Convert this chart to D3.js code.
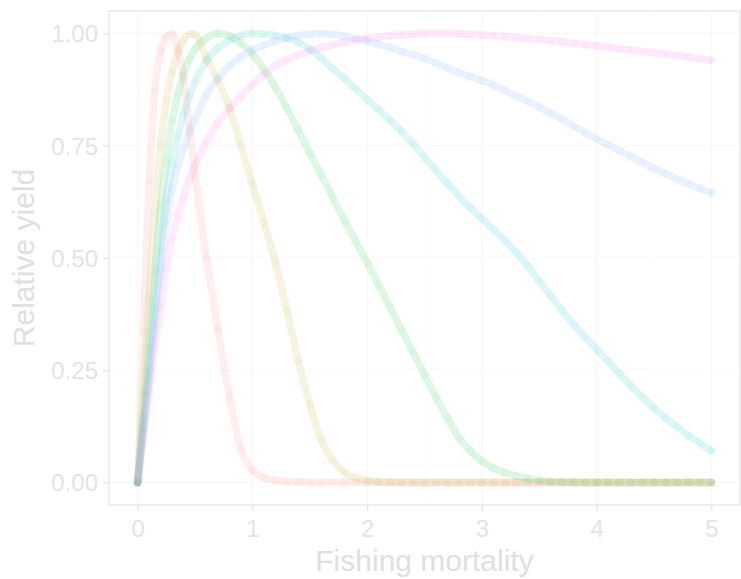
<!DOCTYPE html>
<html lang="en">
<head>
<meta charset="UTF-8">
<title>Relative yield vs fishing mortality</title>
<script src="https://d3js.org/d3.v7.min.js"></script>
<style>
  body { margin: 0; background: #fff; }
  svg { display: block; font-family: "Liberation Sans", Arial, sans-serif; }
  .grid-major { stroke: #f7f7f7; stroke-width: 1.1; }
  .grid-minor { stroke: #fcfcfc; stroke-width: 0.6; }
  .tick-lab { fill: #e4e4e4; font-size: 24px; }
  .axis-title { fill: #e0e0e0; font-size: 30px; }
</style>
</head>
<body>
<svg width="741" height="579"></svg>
<script>
// fishing mortality values (x) shared by all curves
const fishingMortality = [0, 0.05, 0.1, 0.15, 0.2, 0.25, 0.3, 0.35, 0.4, 0.45, 0.5,
  0.6, 0.7, 0.8, 0.9, 1.0, 1.1, 1.2, 1.3, 1.4, 1.5, 1.6, 1.7, 1.8, 1.9, 2.0,
  2.1, 2.2, 2.3, 2.4, 2.5, 2.6, 2.7, 2.8, 2.9, 3.0, 3.1, 3.2, 3.3, 3.4, 3.5,
  3.6, 3.7, 3.8, 3.9, 4.0, 4.1, 4.2, 4.3, 4.4, 4.5, 4.6, 4.7, 4.8, 4.9, 5.0];

// relative yield for each curve
const yield1 = [0, 0.335, 0.67, 0.875, 0.96, 0.992, 0.998, 0.965, 0.9, 0.79, 0.685,
  0.5, 0.34, 0.19, 0.075, 0.028, 0.011, 0.005, 0.002, 0.001, 0, 0, 0, 0, 0, 0,
  0, 0, 0, 0, 0, 0, 0, 0, 0, 0, 0, 0, 0, 0, 0,
  0, 0, 0, 0, 0, 0, 0, 0, 0, 0, 0, 0, 0, 0, 0];
const yield2 = [0, 0.2, 0.41, 0.6, 0.75, 0.85, 0.915, 0.958, 0.985, 0.998, 0.997,
  0.945, 0.895, 0.835, 0.75, 0.665, 0.58, 0.49, 0.385, 0.272, 0.174, 0.095, 0.05, 0.023, 0.011, 0.005,
  0.002, 0.001, 0, 0, 0, 0, 0, 0, 0, 0, 0, 0, 0, 0, 0,
  0, 0, 0, 0, 0, 0, 0, 0, 0, 0, 0, 0, 0, 0, 0];
const yield3 = [0, 0.147, 0.3, 0.47, 0.61, 0.72, 0.805, 0.865, 0.91, 0.943, 0.965,
  0.99, 1.0, 0.995, 0.978, 0.955, 0.92, 0.88, 0.834, 0.785, 0.734, 0.685, 0.635, 0.585, 0.537, 0.49,
  0.44, 0.39, 0.34, 0.29, 0.24, 0.19, 0.143, 0.1, 0.07, 0.048, 0.032, 0.022, 0.015, 0.009, 0.005,
  0.003, 0.002, 0.001, 0, 0, 0, 0, 0, 0, 0, 0, 0, 0, 0, 0];
const yield4 = [0, 0.125, 0.25, 0.39, 0.52, 0.63, 0.71, 0.77, 0.82, 0.86, 0.893,
  0.94, 0.968, 0.985, 0.995, 1.0, 0.998, 0.995, 0.99, 0.98, 0.965, 0.945, 0.922, 0.9, 0.877, 0.853,
  0.83, 0.807, 0.782, 0.755, 0.725, 0.695, 0.666, 0.638, 0.612, 0.588, 0.564, 0.539, 0.512, 0.482, 0.449,
  0.416, 0.383, 0.352, 0.324, 0.297, 0.27, 0.243, 0.215, 0.19, 0.166, 0.144, 0.124, 0.105, 0.088, 0.071];
const yield5 = [0, 0.115, 0.23, 0.35, 0.475, 0.58, 0.652, 0.705, 0.745, 0.78, 0.808,
  0.865, 0.9, 0.928, 0.948, 0.963, 0.974, 0.983, 0.99, 0.995, 0.999, 1.0, 0.998, 0.994, 0.989, 0.983,
  0.976, 0.968, 0.96, 0.953, 0.944, 0.934, 0.923, 0.913, 0.904, 0.895, 0.885, 0.873, 0.861, 0.849, 0.836,
  0.823, 0.809, 0.794, 0.779, 0.765, 0.752, 0.739, 0.726, 0.713, 0.7, 0.688, 0.676, 0.665, 0.655, 0.646];
const yield6 = [0, 0.1, 0.2, 0.3, 0.39, 0.48, 0.545, 0.595, 0.637, 0.675, 0.705,
  0.76, 0.8, 0.833, 0.86, 0.886, 0.908, 0.928, 0.942, 0.952, 0.961, 0.968, 0.974, 0.98, 0.985, 0.989,
  0.992, 0.995, 0.997, 0.999, 1.0, 1.0, 1.0, 0.999, 0.998, 0.997, 0.995, 0.993, 0.991, 0.989, 0.987,
  0.984, 0.981, 0.978, 0.975, 0.972, 0.969, 0.966, 0.963, 0.96, 0.957, 0.954, 0.95, 0.947, 0.943, 0.94];

const curveColors = ["#F8766D", "#B79F00", "#00BA38", "#00BFC4", "#619CFF", "#F564E3"];
const xTicks = [0, 1, 2, 3, 4, 5];
const yTicks = [0, 0.25, 0.5, 0.75, 1];

const series = [yield1, yield2, yield3, yield4, yield5, yield6].map((ys, i) => ({
  color: curveColors[i],
  values: fishingMortality.map((f, j) => ({ f: f, y: ys[j] }))
}));

const svg = d3.select("svg");
const margin = { left: 109, right: 1, top: 11, bottom: 74 };
const width = +svg.attr("width");
const height = +svg.attr("height");

const x = d3.scaleLinear().domain([-0.25, 5.25]).range([margin.left, width - margin.right]);
const y = d3.scaleLinear().domain([-0.05, 1.05]).range([height - margin.bottom, margin.top]);

// grid lines
const xMinor = [0.5, 1.5, 2.5, 3.5, 4.5];
const yMinor = [0.125, 0.375, 0.625, 0.875];
const grid = svg.append("g");
grid.selectAll(".gx-min").data(xMinor).enter().append("line")
  .attr("class", "grid-minor")
  .attr("x1", d => x(d)).attr("x2", d => x(d))
  .attr("y1", y.range()[0]).attr("y2", y.range()[1]);
grid.selectAll(".gy-min").data(yMinor).enter().append("line")
  .attr("class", "grid-minor")
  .attr("y1", d => y(d)).attr("y2", d => y(d))
  .attr("x1", x.range()[0]).attr("x2", x.range()[1]);
grid.selectAll(".gx").data(xTicks).enter().append("line")
  .attr("class", "grid-major")
  .attr("x1", d => x(d)).attr("x2", d => x(d))
  .attr("y1", y.range()[0]).attr("y2", y.range()[1]);
grid.selectAll(".gy").data(yTicks).enter().append("line")
  .attr("class", "grid-major")
  .attr("y1", d => y(d)).attr("y2", d => y(d))
  .attr("x1", x.range()[0]).attr("x2", x.range()[1]);

// curves: thick faint line plus faint points
const line = d3.line()
  .x(d => x(d.f))
  .y(d => y(d.y))
  .curve(d3.curveMonotoneX);

const curves = svg.append("g");
series.forEach(s => {
  const g = curves.append("g");
  g.append("path")
    .datum(s.values)
    .attr("d", line)
    .attr("fill", "none")
    .attr("stroke", s.color)
    .attr("stroke-width", 7.5)
    .attr("stroke-linejoin", "round")
    .attr("stroke-linecap", "round")
    .attr("opacity", 0.12);
  g.selectAll("circle")
    .data(s.values)
    .enter().append("circle")
    .attr("cx", d => x(d.f))
    .attr("cy", d => y(d.y))
    .attr("r", 4.5)
    .attr("fill", s.color)
    .attr("opacity", 0.035);
});

// panel border
svg.append("rect")
  .attr("x", x.range()[0]).attr("y", y.range()[1])
  .attr("width", x.range()[1] - x.range()[0])
  .attr("height", y.range()[0] - y.range()[1])
  .attr("fill", "none")
  .attr("stroke", "#e6e6e6")
  .attr("stroke-width", 1.3);

// axes
const xAxis = svg.append("g")
  .attr("transform", `translate(0,${y.range()[0]})`)
  .call(d3.axisBottom(x).tickValues(xTicks).tickFormat(d3.format("d")).tickSize(6).tickPadding(6));
const yAxis = svg.append("g")
  .attr("transform", `translate(${x.range()[0]},0)`)
  .call(d3.axisLeft(y).tickValues(yTicks).tickFormat(d3.format(".2f")).tickSize(6).tickPadding(5));

[xAxis, yAxis].forEach(a => {
  a.select(".domain").remove();
  a.selectAll(".tick line").attr("stroke", "#e6e6e6").attr("stroke-width", 1.3);
  a.selectAll(".tick text").attr("class", "tick-lab").attr("fill", null)
    .style("font-family", "'Liberation Sans', Arial, sans-serif");
});
xAxis.selectAll(".tick text").attr("dy", "0.72em").attr("y", 15);
yAxis.selectAll(".tick text").attr("dy", "0.35em");

// axis titles
svg.append("text")
  .attr("class", "axis-title")
  .attr("x", (x.range()[0] + x.range()[1]) / 2)
  .attr("y", 571)
  .attr("text-anchor", "middle")
  .text("Fishing mortality");

svg.append("text")
  .attr("class", "axis-title")
  .attr("transform", `translate(34,${(y.range()[0] + y.range()[1]) / 2}) rotate(-90)`)
  .attr("text-anchor", "middle")
  .text("Relative yield");
</script>
</body>
</html>
